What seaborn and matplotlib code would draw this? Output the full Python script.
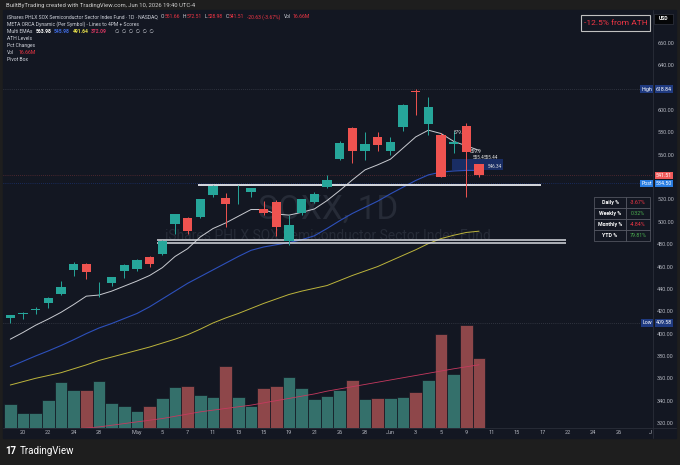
import numpy as np
import pandas as pd
import matplotlib
matplotlib.use("Agg")
import matplotlib.pyplot as plt
from matplotlib.patches import Rectangle
import seaborn as sns

# SOXX daily bars, Apr 17 - Jun 10 2026
opens = [413.7, 417.9, 420.9, 427.1, 435.2, 457.2, 462.0, 438.6, 445.0, 455.7,
         458.0, 468.3, 471.0, 497.8, 503.2, 504.0, 524.0, 521.0, 528.2, 526.4,
         511.7, 518.0, 483.1, 507.6, 517.7, 531.4, 556.0, 584.2, 563.6, 576.2,
         563.4, 585.1, 617.5, 587.5, 577.7, 570.0, 585.7, 551.66]
highs = [416.8, 419.2, 423.5, 432.8, 447.0, 464.3, 462.8, 446.2, 450.8, 462.0,
         466.5, 469.3, 483.7, 507.3, 504.0, 520.8, 533.2, 525.5, 533.0, 530.5,
         519.0, 519.5, 506.0, 520.5, 527.0, 541.5, 572.0, 585.0, 580.7, 580.0,
         575.8, 605.0, 618.84, 611.3, 579.5, 581.0, 588.0, 552.0]
lows = [409.58, 413.0, 417.5, 423.2, 434.5, 451.5, 449.1, 432.5, 442.6, 449.7,
        455.7, 459.3, 470.5, 488.8, 489.1, 503.0, 521.9, 495.6, 516.0, 522.5,
        506.0, 487.5, 479.0, 506.5, 516.5, 530.5, 555.0, 552.3, 555.3, 563.0,
        560.0, 581.5, 596.0, 577.7, 540.0, 561.6, 522.5, 539.8]
closes = [416.6, 418.4, 421.3, 432.1, 441.4, 462.0, 455.1, 439.4, 450.3, 461.4,
          465.8, 462.0, 483.0, 506.7, 492.1, 520.0, 532.3, 516.0, 528.8, 530.0,
          508.2, 495.6, 496.8, 520.0, 524.6, 537.4, 570.2, 563.6, 569.4, 568.7,
          571.7, 604.5, 616.5, 602.5, 540.4, 571.5, 562.14, 541.51]
volume_m = [5.71, 3.49, 3.65, 6.66, 10.87, 9.04, 9.04, 11.11, 5.95, 5.16,
            4.13, 5.16, 7.14, 9.76, 10.0, 7.77, 7.46, 14.76, 7.30, 5.16,
            9.44, 10.08, 12.22, 9.44, 6.90, 7.70, 9.04, 11.50, 6.90, 7.22,
            7.06, 7.46, 8.65, 11.50, 22.45, 12.93, 24.59, 16.66]
ema_white = [395, 401, 407.5, 413, 419, 426, 433.5, 434.5, 438, 442.5,
             447, 452, 459, 469, 476, 486.5, 494, 499, 505, 511,
             511, 507, 506, 508.5, 511.5, 519, 528, 537.5, 546.5, 551,
             556, 566, 576, 582, 579, 572, 568, 563.98]
ema_blue = [370.4, 375.2, 380, 384.5, 389.3, 394.5, 400, 405, 409, 413.5,
            418, 424, 431, 438, 445, 451, 457, 463, 469, 474.5,
            477.5, 479.5, 481.5, 484, 487.5, 494, 501, 507.5, 513, 518.5,
            525, 531, 537, 542, 544.5, 545.5, 546, 545.98]
ema_yellow = [354, 357, 360, 362.5, 365, 368.5, 372, 376, 379, 382,
              385, 388, 391.5, 395, 399, 404, 409.5, 414, 418, 422.5,
              427, 431, 435, 438, 440.5, 443, 447.5, 452, 456, 460,
              465, 470, 475, 480.5, 485, 488, 490.5, 491.64]
ema_pink = [307, 308.5, 310, 311.5, 313, 314.5, 315.5, 316.5, 318, 319.5,
            321, 322.5, 324, 326, 328, 330, 331.5, 333, 334.5, 336,
            338, 340, 342, 344, 346, 348.5, 350.5, 352.5, 354.5, 356.5,
            358.5, 360.5, 362.5, 364.5, 366.5, 368.5, 370.3, 372.09]

date_ticks = [1, 3, 5, 7, 10, 12, 14, 16, 18, 20, 22, 24, 26, 28, 30, 32, 34, 36,
              38, 40, 42, 44, 46, 48]
date_labels = ["20", "22", "24", "28", "May", "5", "7", "11", "13", "15", "19", "21",
               "26", "28", "Jun", "3", "5", "9", "11", "15", "17", "22", "24", "26"]

ath, low_lvl, last, post = 618.84, 409.58, 541.51, 534.50
resistance = 533.0
supports = [483.5, 480.8]
pivot_lo, pivot_hi = 546.4, 555.9

# header OHLC of the last bar
hdr_ohlc = [("O", "551.66"), ("H", "572.51"), ("L", "528.98"), ("C", "541.51")]

pct_names = ["Daily %", "Weekly %", "Monthly %", "YTD %"]
pct_values = ["-3.67%", "0.32%", "-4.84%", "79.81%"]

W, H = 680, 465
BG = "#131722"
FRAME = "#1e1e1e"
TXT = "#b2b5be"
HDR = "#d1d4dc"
UP, DOWN = "#26a69a", "#ef5350"
VUP, VDOWN = "#2a7a73", "#9a3b3f"
RED_T, GREEN_T = "#f23645", "#4caf50"


def fx(x):
    return x / W


def fy(y):
    return 1 - y / H


sns.set_theme(style="dark")
plt.rcParams["font.family"] = ["Roboto", "DejaVu Sans"]

fig = plt.figure(figsize=(W / 100, H / 100), dpi=100, facecolor=FRAME)
fig.add_artist(Rectangle((fx(3), fy(438)), fx(676) - fx(3), fy(10) - fy(438),
                         transform=fig.transFigure, color=BG, zorder=-5))

rect = [fx(3), fy(428), 650 / W, 406 / H]
ax_vol = fig.add_axes(rect, zorder=1)
ax = fig.add_axes(rect, zorder=2)

idx = np.arange(len(closes))
o, h, l, c = map(np.array, (opens, highs, lows, closes))
up = c >= o
xlim = (-0.576, 50.73)

# volume (own scale, bottom of pane)
vol_df = pd.DataFrame({"i": idx, "vol": volume_m, "dir": np.where(up, "up", "down")})
sns.barplot(data=vol_df, x="i", y="vol", hue="dir", palette={"up": VUP, "down": VDOWN},
            native_scale=True, width=1.0, dodge=False, errorbar=None, legend=False,
            edgecolor=BG, linewidth=0.5, ax=ax_vol)
ax_vol.set_xlim(xlim)
ax_vol.set_ylim(0, 406 / 4.2)
ax_vol.axis("off")

# watermark
fig.text(fx(328), fy(210), "SOXX, 1D", fontsize=24, color="#262b37",
         ha="center", va="center", zorder=1.5)
fig.text(fx(328), fy(236), "iShares PHLX SOX Semiconductor Sector Index Fund",
         fontsize=10, color="#262b37", ha="center", va="center", zorder=1.5)

# EMAs
for vals, col, lw in [(ema_pink, "#c7395f", 0.6), (ema_yellow, "#bdb53c", 0.7),
                      (ema_blue, "#2d50bb", 0.8), (ema_white, "#c9cbd1", 0.7)]:
    sns.lineplot(x=idx, y=vals, color=col, linewidth=lw, ax=ax, zorder=2)

# level lines
ax.axhline(ath, color="#4a4e5a", lw=0.5, ls=(0, (1, 2)), zorder=1)
ax.axhline(low_lvl, color="#4a4e5a", lw=0.5, ls=(0, (1, 2)), zorder=1)
ax.axhline(last, color=DOWN, lw=0.5, ls=(0, (1, 2)), alpha=0.5, zorder=1)
ax.axhline(post, color="#2962ff", lw=0.5, ls=(0, (1, 2)), alpha=0.5, zorder=1)
ax.hlines(resistance, 14.8, 41.9, color="#d8dae0", lw=1.4, zorder=2.5)
ax.hlines(supports, 11.6, 43.9, color="#d8dae0", lw=1.1, zorder=2.5)
ax.add_patch(Rectangle((34.84, pivot_lo), 4.02, pivot_hi - pivot_lo,
                       color="#2962ff", alpha=0.3, lw=0, zorder=2))

# candles
colors = np.where(up, UP, DOWN)
ax.vlines(idx, l, h, colors=colors, lw=0.7, zorder=3)
ax.bar(idx, np.maximum(np.abs(c - o), 0.7), bottom=np.minimum(o, c), width=0.72,
       color=colors, linewidth=0, zorder=4)

for xi, yi, s in [(35.0, 579.5, "579.9"), (36.3, 562.5, "559.9"),
                  (36.5, 557.6, "555.4"), (37.4, 557.6, "555.44"), (37.7, 549.3, "546.34")]:
    ax.text(xi, yi, s, fontsize=3.3, color="#e0e0e0", ha="left", va="center", zorder=3.5)

ax.set_xlim(xlim)
ax.set_ylim(315.53, 678.8)
ax.patch.set_visible(False)
ax.grid(False)
for sp in ax.spines.values():
    sp.set_visible(False)
ax.set_xlabel("")
ax.set_ylabel("")
ax.yaxis.tick_right()
# price scale; levels hidden behind the tags get no label
yt = list(range(320, 661, 20))
tagged = [ath, last, post, low_lvl]
ax.set_yticks(yt)
ax.set_yticklabels(["" if min(abs(v - t) for t in tagged) < 6 else f"{v:.2f}" for v in yt])
ax.set_xticks(date_ticks + [50.55])
ax.set_xticklabels(date_labels + ["J"])
ax.tick_params(axis="y", length=0, pad=3, labelsize=4, labelcolor=TXT)
ax.tick_params(axis="x", length=0, pad=1.5, labelsize=4, labelcolor=TXT)


def tag(price, txt, color, name=None):
    kw = dict(transform=ax.get_yaxis_transform(), va="center", fontsize=3.8, color="white",
              clip_on=False, zorder=10)
    box = dict(boxstyle="square,pad=0.22", fc=color, ec="none")
    ax.text(1.0 + 3 / 650, price, txt, ha="left", bbox=box, **kw)
    if name:
        ax.text(1.0 - 1 / 650, price, name, ha="right", bbox=box, **kw)


tag(ath, f"{ath:.2f}", "#1f3a80", "High")
tag(last, f"{last:.2f}", "#f05a5a")
tag(post, f"{post:.2f}", "#2a7de1", "Post")
tag(low_lvl, f"{low_lvl:.2f}", "#1f3a80", "Low")

# frame separators
fig.add_artist(plt.Line2D([fx(653), fx(653)], [fy(10), fy(438)], color="#2a2e39", lw=0.6))
fig.add_artist(plt.Line2D([fx(3), fx(676)], [fy(428), fy(428)], color="#2a2e39", lw=0.6))

# header texts, chained left to right
fig.text(fx(6), fy(5.5), "BuiltByTrading created with TradingView.com, Jun 10, 2026 19:40 UTC-4",
         fontsize=4.2, color="#d0d0d0", va="center")
HFS = 3.6


def chain(y, parts):
    prev = fig.text(fx(7), fy(y), parts[0][0], color=parts[0][1], fontsize=HFS, va="center")
    for p in parts[1:]:
        s, col, gap = p[0], p[1], p[2]
        wt = p[3] if len(p) > 3 else "normal"
        prev = ax.annotate(s, xy=(1, 0.5), xycoords=prev, xytext=(gap, 0),
                           textcoords="offset points", va="center", ha="left",
                           color=col, fontsize=HFS, fontweight=wt, annotation_clip=False)
    return prev


line2 = [("iShares PHLX SOX Semiconductor Sector Index Fund · 1D · NASDAQ", HDR)]
for lab, val in hdr_ohlc:
    line2 += [(lab, HDR, 2.2), (val, RED_T, 0)]
line2 += [("-20.63 (-3.67%)", RED_T, 2.2), ("Vol", HDR, 2.2), ("16.66M", RED_T, 1.2)]
chain(16.7, line2)
chain(24.3, [("META ORCA Dynamic (Per Symbol) - Lines to 4PM + Scores", HDR)])
chain(31.3, [("Multi EMAs", HDR),
             (f"{ema_white[-1]:.2f}", "#ffffff", 2.0, "bold"),
             (f"{ema_blue[-1]:.2f}", "#3f6be0", 2.0, "bold"),
             (f"{ema_yellow[-1]:.2f}", "#e8e04a", 2.0, "bold"),
             (f"{ema_pink[-1]:.2f}", "#d0365f", 2.0, "bold"),
             ("∅  ∅  ∅  ∅  ∅  ∅", HDR, 6.0)])
chain(38.3, [("ATH Levels", HDR)])
chain(45.0, [("Pct Changes", HDR)])
chain(52.0, [("Vol", HDR), ("16.66M", RED_T, 3.0)])
chain(59.3, [("Pivot Box", HDR)])

# ATH box and currency
fig.add_artist(Rectangle((fx(581), fy(31)), 69 / W, 16 / H, transform=fig.transFigure,
                         fc=BG, ec="#c0c0c0", lw=0.8, zorder=5))
fig.text(fx(615.5), fy(23), "-12.5% from ATH", fontsize=6, color=RED_T,
         ha="center", va="center", zorder=6)
fig.add_artist(Rectangle((fx(654), fy(24)), 19 / W, 10 / H, transform=fig.transFigure,
                         fc="#050608", ec="#3a3e4a", lw=0.4, zorder=5))
fig.text(fx(663.5), fy(19), "USD", fontsize=3.6, color="white", fontweight="bold",
         ha="center", va="center", zorder=6)

# pct table
for r, (name, val) in enumerate(zip(pct_names, pct_values)):
    y0 = 197 + r * 11
    for xa, wd in [(594, 32), (626, 24)]:
        fig.add_artist(Rectangle((fx(xa), fy(y0 + 11)), wd / W, 11 / H, transform=fig.transFigure,
                                 fc=BG, ec="#5d606b", lw=0.5, zorder=5))
    fig.text(fx(610), fy(y0 + 5.5), name, fontsize=3.8, color="white", fontweight="bold",
             ha="center", va="center", zorder=6)
    fig.text(fx(638), fy(y0 + 5.5), val, fontsize=3.8,
             color=RED_T if val.startswith("-") else GREEN_T,
             ha="center", va="center", zorder=6)

# footer logo
fig.text(fx(5), fy(451), "17", fontsize=7, color="white", fontweight="bold", va="center")
fig.text(fx(20), fy(451), "TradingView", fontsize=7, color="white", va="center")

fig.savefig("out.png", dpi=100, facecolor=FRAME)
